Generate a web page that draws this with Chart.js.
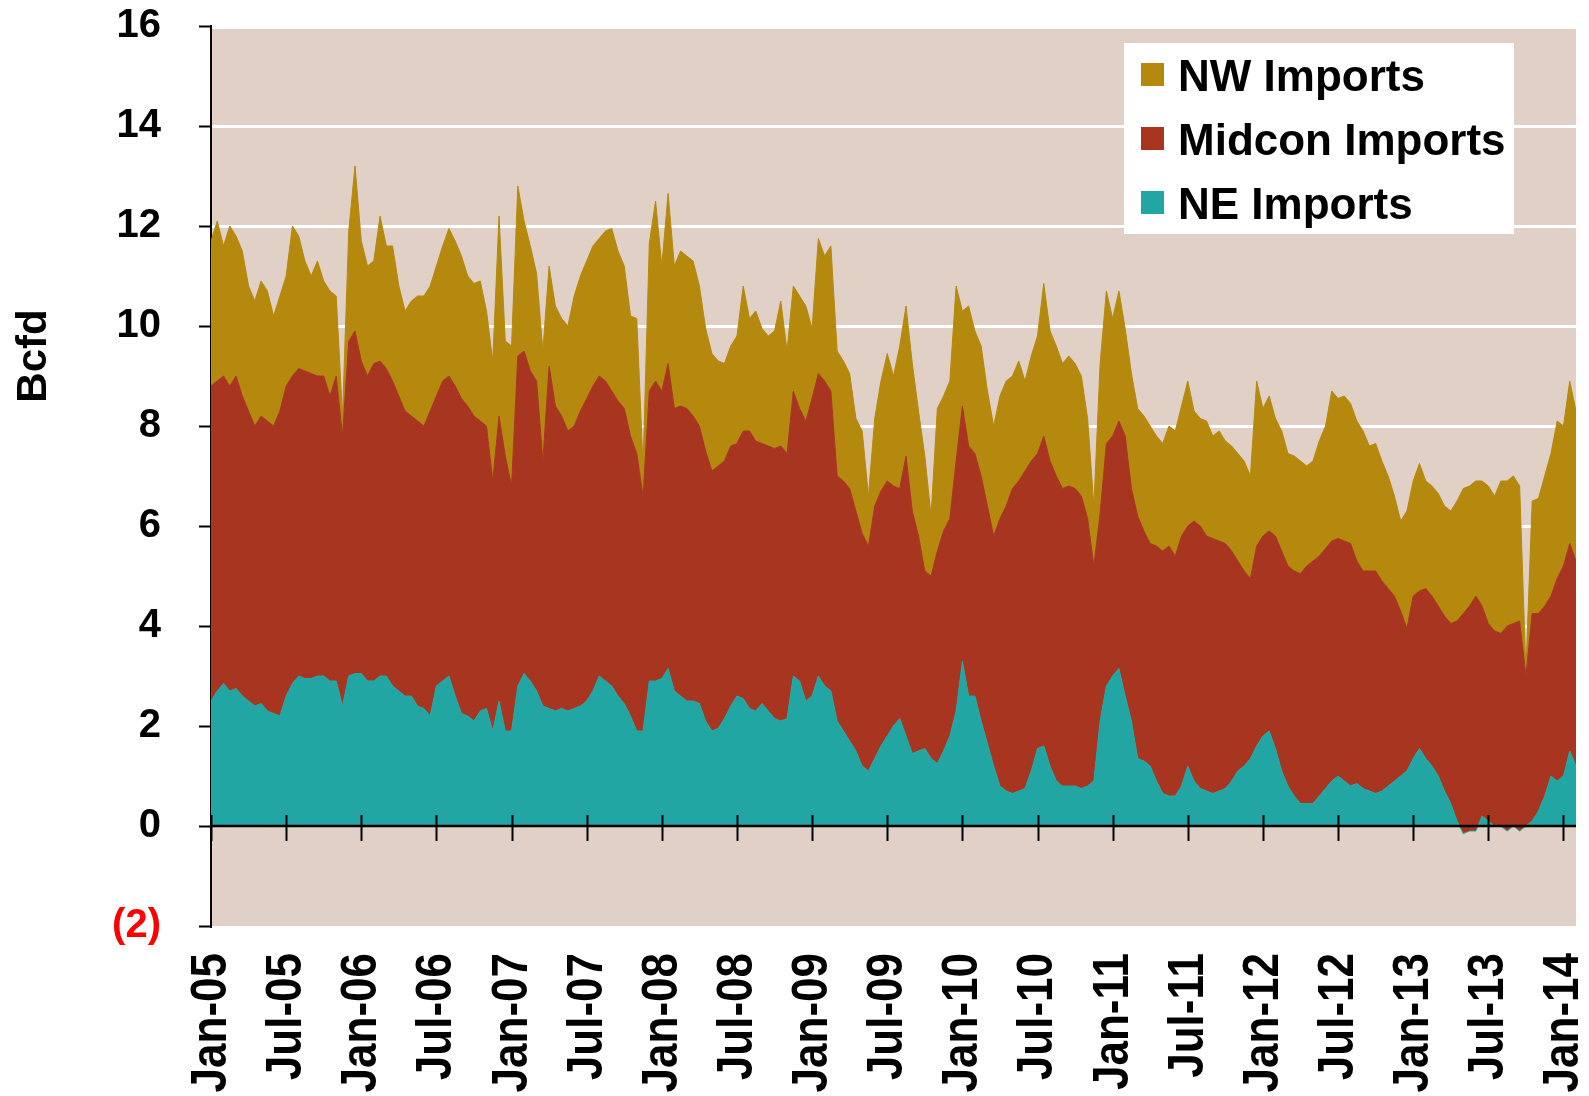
<!DOCTYPE html>
<html><head><meta charset="utf-8">
<script src="https://cdn.jsdelivr.net/npm/chart.js@4.4.1/dist/chart.umd.min.js"></script>
<style>html,body{margin:0;padding:0;background:#fff;}#wrap{width:1589px;height:1096px;position:relative;}</style>
</head><body><div id="wrap"><canvas id="c" width="1589" height="1096"></canvas></div>
<script>
// Semi-monthly readings, starting Jan-05 (x in months since Jan-05)
const stepMonths = 0.5;
const seriesNames = ['NE Imports', 'Midcon Imports', 'NW Imports'];
const tickMonths = [0, 6, 12, 18, 24, 30, 36, 42, 48, 54, 60, 66, 72, 78, 84, 90, 96, 102, 108];
const tickLabels = ['Jan-05','Jul-05','Jan-06','Jul-06','Jan-07','Jul-07','Jan-08','Jul-08','Jan-09','Jul-09',
                    'Jan-10','Jul-10','Jan-11','Jul-11','Jan-12','Jul-12','Jan-13','Jul-13','Jan-14'];
const yAxisTitle = 'Bcfd';

const neImports = [
2.5,2.7,2.85,2.7,2.75,2.6,2.5,2.4,2.45,2.3,2.25,2.2,2.6,2.85,3.0,2.95,2.95,3.0,3.0,2.9,
2.9,2.4,3.0,3.05,3.05,2.9,2.9,3.0,3.0,2.8,2.7,2.6,2.6,2.4,2.35,2.2,2.8,2.9,3.0,2.6,
2.25,2.2,2.1,2.3,2.35,1.9,2.5,1.9,1.9,2.8,3.05,2.9,2.7,2.4,2.35,2.3,2.35,2.3,2.35,2.4,
2.5,2.7,3.0,2.9,2.8,2.6,2.45,2.2,1.9,1.9,2.9,2.9,2.95,3.15,2.7,2.6,2.5,2.5,2.45,2.1,
1.9,1.95,2.15,2.4,2.6,2.55,2.35,2.3,2.45,2.3,2.15,2.1,2.15,3.0,2.9,2.5,2.6,3.0,2.8,2.7,
2.1,1.9,1.7,1.5,1.2,1.1,1.35,1.6,1.8,2.0,2.15,1.8,1.45,1.5,1.55,1.35,1.25,1.5,1.8,2.3,
3.3,2.6,2.6,2.1,1.65,1.2,0.8,0.7,0.65,0.7,0.75,1.1,1.55,1.6,1.2,0.9,0.8,0.8,0.8,0.75,
0.8,0.9,2.1,2.8,3.0,3.15,2.6,2.1,1.35,1.3,1.2,0.9,0.65,0.6,0.6,0.8,1.2,0.9,0.75,0.7,
0.65,0.7,0.75,0.9,1.1,1.2,1.35,1.6,1.8,1.9,1.55,1.1,0.8,0.6,0.45,0.45,0.45,0.6,0.75,0.9,
1.0,0.9,0.8,0.85,0.75,0.7,0.65,0.7,0.8,0.9,1.0,1.1,1.35,1.55,1.35,1.2,1.0,0.7,0.45,0.1,
-0.15,-0.1,-0.1,0.2,0.1,0.0,0.0,-0.1,0.0,-0.1,0.0,0.1,0.3,0.6,1.0,0.9,1.0,1.5,1.2
];
const midconImports = [
6.3,6.2,6.15,6.1,6.25,6.0,5.8,5.6,5.75,5.8,5.75,6.1,6.2,6.15,6.15,6.15,6.1,6.0,6.0,5.7,
6.1,5.4,6.7,6.85,6.25,6.1,6.35,6.3,6.15,6.1,5.9,5.7,5.6,5.7,5.65,6.1,5.8,6.0,6.0,6.2,
6.3,6.2,6.1,5.8,5.65,5.0,5.7,5.5,4.9,6.6,6.45,6.2,6.2,4.9,6.85,6.1,5.85,5.6,5.65,5.9,
6.05,6.1,6.0,6.0,5.9,5.9,5.9,5.6,5.55,4.7,5.8,6.0,5.75,6.1,5.65,5.8,5.85,5.7,5.55,5.4,
5.2,5.25,5.15,5.2,5.05,5.35,5.55,5.4,5.2,5.3,5.4,5.5,5.3,5.7,5.45,5.6,5.95,6.05,6.1,6.0,
4.9,5.0,5.05,4.8,4.65,4.5,5.05,5.1,5.1,4.8,4.6,5.6,4.85,4.3,3.55,3.65,4.25,4.4,4.35,5.0,
5.1,5.0,4.85,4.9,4.75,4.6,5.35,5.7,6.1,6.2,6.35,6.2,5.9,6.2,6.1,6.1,5.95,6.0,5.95,5.85,
5.35,4.3,4.15,4.85,4.8,4.95,5.2,4.65,4.85,4.6,4.45,4.7,4.85,5.0,4.8,5.0,4.8,5.2,5.25,5.1,
5.1,5.0,4.9,4.6,4.2,3.9,3.6,4.0,4.0,4.0,4.25,4.4,4.4,4.5,4.6,4.75,4.85,4.8,4.8,4.8,
4.75,4.8,4.85,4.45,4.35,4.4,4.45,4.2,3.95,3.7,3.3,2.85,3.25,3.15,3.4,3.4,3.4,3.5,3.6,4.0,
4.4,4.5,4.7,4.2,3.95,3.9,3.85,4.1,4.05,4.2,3.0,4.15,3.95,3.8,3.6,4.05,4.2,4.15,4.1
];
const nwImports = [
2.9,3.2,2.6,3.2,2.8,2.9,2.5,2.5,2.7,2.6,2.2,2.3,2.2,3.0,2.65,2.2,1.95,2.3,1.9,2.1,
1.6,0.4,2.2,3.3,2.4,2.2,2.05,2.9,2.45,2.7,2.2,2.0,2.3,2.5,2.6,2.5,2.6,2.7,2.95,2.9,
2.85,2.6,2.65,2.8,2.3,2.4,4.0,2.3,2.8,3.4,2.6,2.5,2.15,2.2,2.0,2.0,1.95,2.1,2.6,2.7,
2.75,2.8,2.75,3.0,3.25,3.0,2.85,2.4,2.7,0.6,2.95,3.6,2.5,3.4,2.85,3.1,3.05,3.1,2.8,2.45,
2.35,2.1,1.95,2.0,2.15,2.9,2.25,2.6,2.3,2.2,2.35,2.9,2.05,2.1,2.25,2.3,1.4,2.7,2.5,2.9,
2.5,2.4,2.3,1.85,2.05,1.0,1.75,2.2,2.55,2.2,2.85,3.0,2.95,2.5,2.3,1.2,2.85,2.7,2.75,3.5,
1.9,2.8,2.45,2.6,2.3,2.2,2.45,2.5,2.25,2.4,1.8,2.1,2.35,3.05,2.6,2.6,2.5,2.6,2.5,2.4,
2.0,1.2,3.0,3.05,2.35,2.6,2.15,2.3,2.15,2.3,2.35,2.2,2.15,2.4,2.5,2.6,2.9,2.2,2.15,2.3,
2.05,2.2,2.05,2.1,2.15,2.2,2.05,3.3,2.55,2.7,2.35,2.4,2.25,2.3,2.25,2.0,2.0,2.3,2.45,3.0,
2.8,2.9,2.8,2.8,2.8,2.5,2.55,2.4,2.25,2.0,1.8,2.35,2.3,2.55,2.15,2.2,2.25,2.2,2.25,2.4,
2.5,2.4,2.3,2.5,2.75,2.7,3.05,2.9,2.95,2.7,0.1,2.25,2.3,2.6,2.85,3.15,2.8,3.25,3.0
];

const COLORS = { ne: '#22A6A3', mid: '#A83520', nw: '#B5890E', bg: '#E0D0C6' };
const FONT = '"Liberation Sans", Arial, sans-serif';
Chart.defaults.font.family = FONT;
Chart.defaults.font.weight = 'bold';

const toPoints = arr => arr.map((v, i) => ({ x: i * stepMonths, y: v }));

const bgPlugin = {
  id: 'bg',
  beforeDraw(chart) {
    const { ctx, chartArea: a } = chart;
    ctx.save(); ctx.fillStyle = COLORS.bg;
    ctx.fillRect(a.left, a.top + 3, a.right - a.left, a.bottom - a.top - 3);
    ctx.restore();
  }
};
const axesPlugin = {
  id: 'axesMarks',
  afterDatasetsDraw(chart) {
    const { ctx, chartArea: a, scales } = chart;
    const y0 = scales.y.getPixelForValue(0);
    ctx.save(); ctx.strokeStyle = '#000';
    ctx.lineWidth = 2.5;
    ctx.beginPath(); ctx.moveTo(a.left, y0); ctx.lineTo(a.right, y0); ctx.stroke();
    ctx.lineWidth = 2;
    tickMonths.forEach(m => {
      const x = Math.round(scales.x.getPixelForValue(m)) + 0.5;
      ctx.beginPath(); ctx.moveTo(x, y0 - 11); ctx.lineTo(x, y0 + 15); ctx.stroke();
    });
    scales.y.ticks.forEach(t => {
      const y = Math.round(scales.y.getPixelForValue(t.value)) + 0.5;
      ctx.beginPath(); ctx.moveTo(a.left - 12, y); ctx.lineTo(a.left, y); ctx.stroke();
    });
    ctx.restore();
  },
  afterDraw(chart) {
    const { ctx, chartArea: a, scales } = chart;
    ctx.save();
    ctx.fillStyle = '#000';
    ctx.font = 'bold 44px ' + FONT;
    ctx.textAlign = 'right'; ctx.textBaseline = 'middle';
    tickMonths.forEach((m, i) => {
      const x = scales.x.getPixelForValue(m);
      ctx.save();
      ctx.translate(x + 1, a.bottom + 27);
      ctx.rotate(-Math.PI / 2);
      ctx.scale(1, 1.15);
      ctx.fillText(tickLabels[i], 0, 0);
      ctx.restore();
    });
    ctx.restore();
  }
};
const legendPlugin = {
  id: 'boxLegend',
  afterDraw(chart) {
    const { ctx, chartArea: a } = chart;
    const w = 390, h = 191;
    const left = a.right - 62 - w, top = a.top + 17;
    ctx.save();
    ctx.fillStyle = '#fff'; ctx.fillRect(left, top, w, h);
    ctx.font = 'bold 44px ' + FONT;
    ctx.textBaseline = 'alphabetic'; ctx.textAlign = 'left';
    const ds = chart.data.datasets.slice().reverse();
    ds.forEach((d, i) => {
      const cy = top + 31.5 + i * 64;
      ctx.fillStyle = d.backgroundColor;
      ctx.fillRect(left + 17, cy - 11.5, 23, 23);
      ctx.fillStyle = '#000';
      ctx.fillText(d.label, left + 54, cy + 16);
    });
    ctx.restore();
  }
};
const yTitlePlugin = {
  id: 'yTitle',
  afterDraw(chart) {
    const { ctx, scales } = chart;
    const cy = scales.y.getPixelForValue(9.4);
    ctx.save();
    ctx.translate(34, cy); ctx.rotate(-Math.PI / 2);
    ctx.font = 'bold 42px ' + FONT;
    ctx.fillStyle = '#000'; ctx.textAlign = 'center'; ctx.textBaseline = 'middle';
    ctx.fillText(yAxisTitle, 0, 0);
    ctx.restore();
  }
};

new Chart(document.getElementById('c'), {
  type: 'line',
  data: {
    datasets: [
      { label: seriesNames[0], data: toPoints(neImports), backgroundColor: COLORS.ne, borderColor: COLORS.ne,
        fill: { target: 'origin', above: COLORS.ne, below: COLORS.mid } },
      { label: seriesNames[1], data: toPoints(midconImports), backgroundColor: COLORS.mid, borderColor: COLORS.mid, fill: '-1' },
      { label: seriesNames[2], data: toPoints(nwImports), backgroundColor: COLORS.nw, borderColor: COLORS.nw, fill: '-1' }
    ]
  },
  options: {
    responsive: false,
    animation: false,
    events: [],
    layout: { padding: { left: 0, right: 13, top: 26, bottom: 0 } },
    elements: { point: { radius: 0 }, line: { borderWidth: 1, tension: 0 } },
    plugins: { legend: { display: false }, tooltip: { enabled: false } },
    scales: {
      x: {
        type: 'linear', min: 0, max: 109,
        afterBuildTicks: s => { s.ticks = tickMonths.map(v => ({ value: v })); },
        afterFit: s => { s.height = 170; },
        grid: { display: false, drawTicks: false },
        border: { display: false },
        ticks: { display: false }
      },
      y: {
        stacked: 'single',
        min: -2, max: 16,
        afterFit: s => { s.width = 211; },
        ticks: {
          stepSize: 2, padding: 0,
          font: { size: 40, weight: 'bold' },
          color: c => c.tick.value < 0 ? '#FF0000' : '#000',
          callback: v => v < 0 ? '(' + Math.abs(v) + ')' : String(v)
        },
        grid: {
          color: c => (c.tick && c.tick.value > 0 && c.tick.value < 16) ? '#FFFFFF' : 'rgba(0,0,0,0)',
          lineWidth: 3, tickLength: 50, tickColor: 'rgba(0,0,0,0)'
        },
        border: { display: true, color: '#000', width: 2 }
      }
    }
  },
  plugins: [bgPlugin, axesPlugin, legendPlugin, yTitlePlugin]
});
</script></body></html>
